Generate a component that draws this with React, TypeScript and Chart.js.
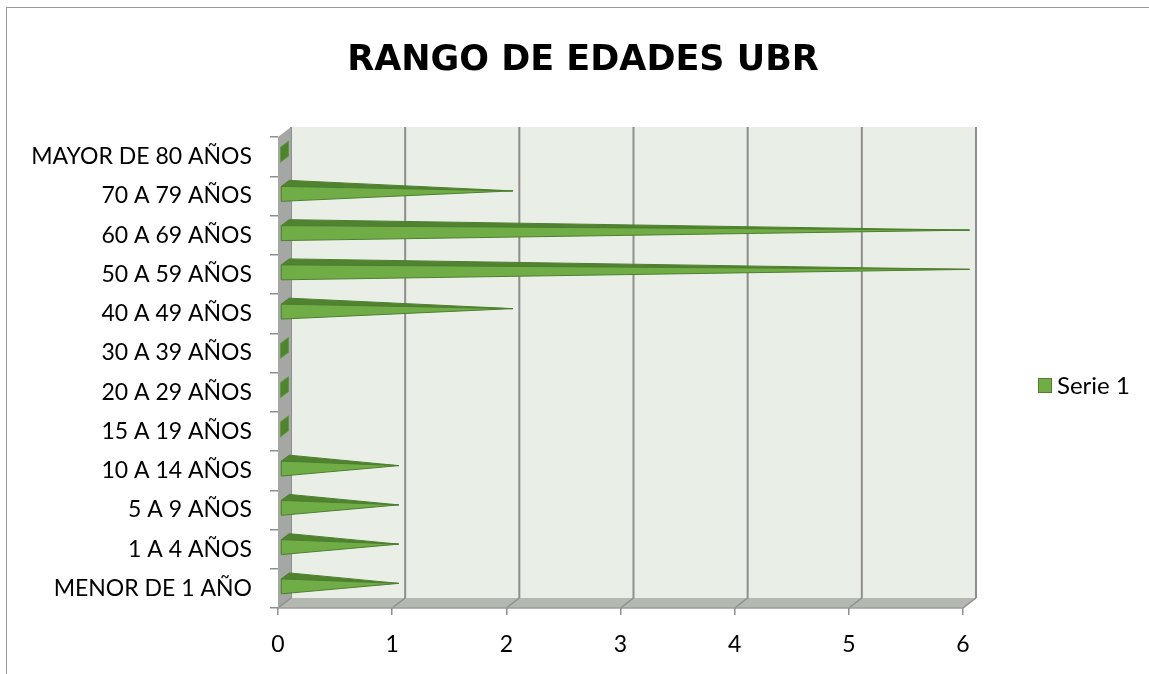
import React, { useEffect, useRef } from "react";
import { Chart, registerables } from "chart.js";

Chart.register(...registerables);

const chartTitle = "RANGO DE EDADES UBR";
const seriesName = "Serie 1";
const categories = [
  "MENOR DE 1 AÑO",
  "1 A 4 AÑOS",
  "5 A 9 AÑOS",
  "10 A 14 AÑOS",
  "15 A 19 AÑOS",
  "20 A 29 AÑOS",
  "30 A 39 AÑOS",
  "40 A 49 AÑOS",
  "50 A 59 AÑOS",
  "60 A 69 AÑOS",
  "70 A 79 AÑOS",
  "MAYOR DE 80 AÑOS",
];
const serie1 = [1, 1, 1, 1, 0, 0, 0, 2, 6, 6, 2, 0];
const xTicks = [0, 1, 2, 3, 4, 5, 6];

const FONT = "Lato";
const TITLE_FONT = "'DejaVu Sans'";
const DX = 13;
const DY = -10;
const GREEN = "#70AD47";
const GREEN_DARK = "#4F8330";
const GREEN_LINE = "#4E7F2F";
const GRID = "#8E8E8E";

const wallsPlugin = {
  id: "walls3d",
  beforeDraw(chart: any) {
    const { ctx, chartArea, scales } = chart;
    const { left, right, top, bottom } = chartArea;
    const x = scales.x;
    ctx.save();
    ctx.fillStyle = "#E9EEE6";
    ctx.fillRect(left + DX, top + DY, right - left, bottom - top);
    ctx.strokeStyle = GRID;
    ctx.lineWidth = 2;
    for (const v of xTicks) {
      const px = x.getPixelForValue(v) + DX;
      ctx.beginPath();
      ctx.moveTo(px, top + DY);
      ctx.lineTo(px, bottom + DY);
      ctx.stroke();
    }
    ctx.fillStyle = "#A4A7A3";
    ctx.beginPath();
    ctx.moveTo(left, top);
    ctx.lineTo(left + DX, top + DY);
    ctx.lineTo(left + DX, bottom + DY);
    ctx.lineTo(left, bottom);
    ctx.closePath();
    ctx.fill();
    ctx.fillStyle = "#B3B8B0";
    ctx.beginPath();
    ctx.moveTo(left, bottom);
    ctx.lineTo(left + DX, bottom + DY);
    ctx.lineTo(right + DX, bottom + DY);
    ctx.lineTo(right, bottom);
    ctx.closePath();
    ctx.fill();
    ctx.strokeStyle = GRID;
    ctx.lineWidth = 1.5;
    for (const v of xTicks) {
      const px = x.getPixelForValue(v);
      ctx.beginPath();
      ctx.moveTo(px, bottom);
      ctx.lineTo(px + DX, bottom + DY);
      ctx.stroke();
    }
    ctx.strokeStyle = "#9C9C9C";
    ctx.lineWidth = 1.5;
    ctx.beginPath();
    ctx.moveTo(left, bottom);
    ctx.lineTo(right, bottom);
    ctx.stroke();
    ctx.restore();
  },
  afterDatasetsDraw(chart: any) {
    const { ctx } = chart;
    const meta = chart.getDatasetMeta(0);
    const mx = DX / 2;
    const my = DY / 2;
    const hx = 4;
    const hy = -3;
    ctx.save();
    ctx.lineJoin = "round";
    meta.data.forEach((el: any, i: number) => {
      const p = el.getProps(["x", "y", "base", "height"], true);
      const h = p.height;
      const cx = p.base + mx;
      const cy = p.y + my;
      const FT = [cx - hx, cy - hy - h / 2];
      const FB = [cx - hx, cy - hy + h / 2];
      const BT = [cx + hx, cy + hy - h / 2];
      const BB = [cx + hx, cy + hy + h / 2];
      const A = [p.x + mx, cy];
      ctx.fillStyle = GREEN_DARK;
      ctx.strokeStyle = GREEN_LINE;
      ctx.lineWidth = 1;
      ctx.beginPath();
      ctx.moveTo(FT[0], FT[1]);
      ctx.lineTo(BT[0], BT[1]);
      ctx.lineTo(BB[0], BB[1]);
      ctx.lineTo(FB[0], FB[1]);
      ctx.closePath();
      ctx.fill();
      if (serie1[i] === 0) {
        ctx.strokeStyle = "#5E9A3A";
        ctx.stroke();
        return;
      }
      ctx.beginPath();
      ctx.moveTo(FT[0], FT[1]);
      ctx.lineTo(BT[0], BT[1]);
      ctx.lineTo(A[0], A[1]);
      ctx.closePath();
      ctx.fill();
      ctx.stroke();
      ctx.fillStyle = GREEN;
      ctx.beginPath();
      ctx.moveTo(FT[0], FT[1]);
      ctx.lineTo(FB[0], FB[1]);
      ctx.lineTo(A[0], A[1]);
      ctx.closePath();
      ctx.fill();
      ctx.stroke();
    });
    ctx.restore();
  },
  afterDraw(chart: any) {
    const { ctx } = chart;
    ctx.save();
    ctx.fillStyle = "#000";
    ctx.font = `bold 35px ${TITLE_FONT}`;
    ctx.textAlign = "center";
    ctx.textBaseline = "alphabetic";
    ctx.fillText(chartTitle, 583, 70);
    ctx.fillStyle = GREEN;
    ctx.fillRect(1038, 378, 13, 14);
    ctx.strokeStyle = GREEN_LINE;
    ctx.lineWidth = 1;
    ctx.strokeRect(1038.5, 378.5, 13, 14);
    ctx.fillStyle = "#000";
    ctx.font = `24px ${FONT}`;
    ctx.textAlign = "left";
    ctx.textBaseline = "middle";
    ctx.fillText(seriesName, 1057, 386);
    ctx.restore();
  },
};

export default function App() {
  const canvasRef = useRef<HTMLCanvasElement | null>(null);

  useEffect(() => {
    const canvas = canvasRef.current;
    if (!canvas) return;
    const chart = new Chart(canvas, {
      type: "bar",
      data: {
        labels: categories,
        datasets: [
          {
            label: seriesName,
            data: serie1,
            backgroundColor: "rgba(0,0,0,0)",
            borderWidth: 0,
            barPercentage: 0.38,
            categoryPercentage: 1,
          },
        ],
      },
      options: {
        indexAxis: "y",
        responsive: false,
        animation: false,
        devicePixelRatio: 1,
        layout: { padding: { left: 0, right: 186, top: 137, bottom: 0 } },
        plugins: {
          legend: { display: false },
          title: { display: false },
          tooltip: { enabled: false },
        },
        scales: {
          x: {
            min: 0,
            max: 6,
            afterBuildTicks: (scale: any) => {
              scale.ticks = xTicks.map((v) => ({ value: v }));
            },
            ticks: {
              color: "#000",
              font: { family: FONT, size: 23 },
              padding: 16,
            },
            grid: {
              drawOnChartArea: false,
              drawTicks: true,
              tickLength: 7,
              color: GRID,
              lineWidth: 1.5,
            },
            border: { display: false },
            afterFit: (scale: any) => {
              scale.height = 66;
            },
          },
          y: {
            reverse: true,
            ticks: {
              color: "#000",
              font: { family: FONT, size: 23 },
              padding: 18,
              autoSkip: false,
            },
            grid: {
              drawOnChartArea: false,
              drawTicks: true,
              tickLength: 8,
              color: GRID,
              lineWidth: 1.5,
              offset: true,
            },
            border: { display: false },
            afterFit: (scale: any) => {
              scale.width = 278;
            },
          },
        },
      },
      plugins: [wallsPlugin],
    } as any);
    return () => chart.destroy();
  }, []);

  return (
    <div style={{ position: "fixed", left: 0, top: 0, width: 1149, height: 674, background: "#fff", overflow: "hidden" }}>
      <div
        style={{
          position: "absolute",
          left: 6,
          top: 7,
          width: 2000,
          height: 2000,
          borderLeft: "1px solid #9A9A9A",
          borderTop: "1px solid #9A9A9A",
        }}
      />
      <canvas
        ref={canvasRef}
        width={1149}
        height={674}
        style={{ position: "absolute", left: 0, top: 0, width: 1149, height: 674 }}
      />
    </div>
  );
}
